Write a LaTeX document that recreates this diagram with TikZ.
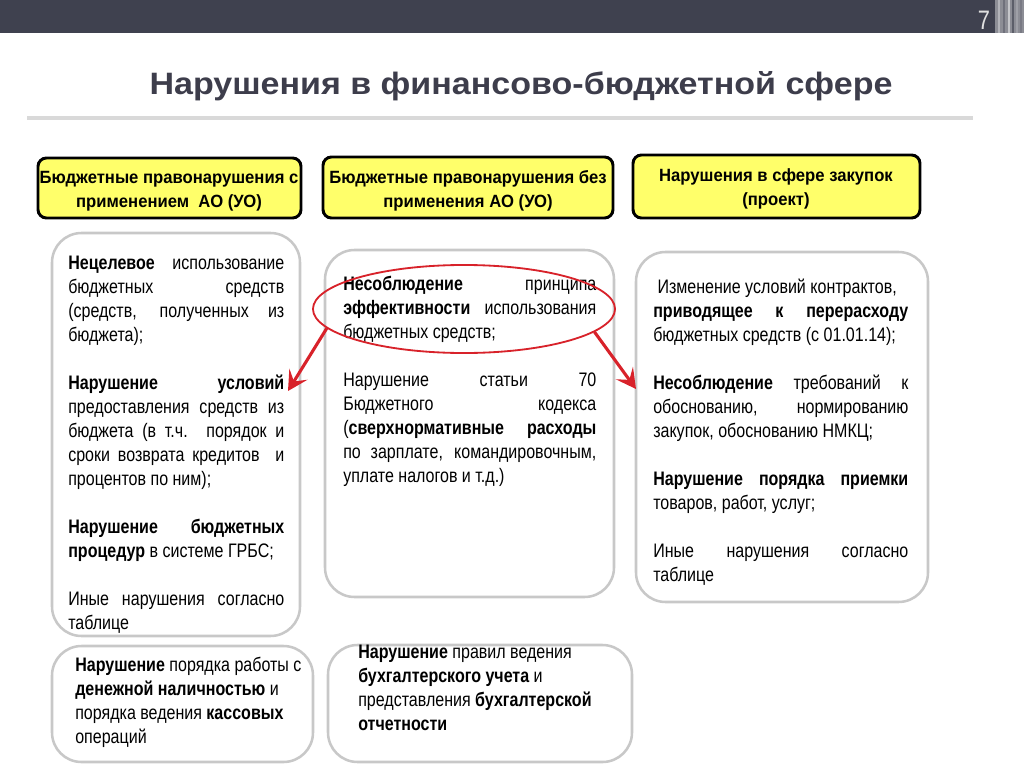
\documentclass[tikz,border=0pt]{standalone}
\usepackage{fontspec}
\setmainfont{Liberation Sans}[FakeStretch=0.82]
\newfontfamily\titlefamily{Liberation Sans}[FakeStretch=1.1]
\newfontfamily\hdrfamily{Liberation Sans}[FakeStretch=0.94]
\usetikzlibrary{arrows.meta,shapes.geometric}

\definecolor{barcol}{HTML}{3F414F}
\definecolor{titlecol}{HTML}{3D3D4B}
\definecolor{hdrfill}{HTML}{FFFF6A}
\definecolor{boxline}{HTML}{C8C8C8}
\definecolor{markred}{HTML}{D8222A}

\newcommand\bodyfont{\fontsize{13.9}{17.07}\selectfont\hyphenpenalty=10000\tolerance=10000}
\newcommand\hdrfont{\hdrfamily\fontsize{12.6}{17.07}\selectfont\bfseries}
\newcommand\blankline{\par\vspace{17.07pt}}

\tikzset{
  hdrbox/.style={draw=black, line width=2.1pt, fill=hdrfill, rounded corners=6pt},
  bodybox/.style={draw=boxline, line width=1.8pt, fill=white, rounded corners=21pt},
  bodytext/.style={anchor=north west, inner sep=0pt, align=justify, font=\bodyfont},
  plaintext/.style={anchor=north west, inner sep=0pt, align=left, font=\bodyfont},
  hdrtext/.style={inner sep=0pt, align=center, font=\hdrfont},
  redarrow/.style={draw=markred, line width=2.2pt, -{Stealth[length=14pt,width=15pt,inset=6pt]}}
}

\begin{document}
\begin{tikzpicture}[x=0.025cm, y=-0.025cm]

    \useasboundingbox (0,0) rectangle (1024,768);

    % top bar
    \fill[barcol] (0,0) rectangle (1024,33);
    \fill[barcol!60!white] (995,0) rectangle (1024,33);
    \foreach \xl/\gl in {998/40, 1003/75, 1008/30, 1012/85, 1016/50, 1020/70} {
        \fill[barcol!\gl!white] (\xl,0) rectangle ++(2,33);
    }
    \node[text=white!88!black, font=\fontsize{19}{20}\selectfont] (pagenum) at (984,20) {7};

    % title
    \node[anchor=base, text=titlecol, font=\titlefamily\fontsize{22}{26}\selectfont\bfseries] (title) at (521,95)
        {Нарушения в финансово-бюджетной сфере};
    \draw[line width=2.2pt, white!85!black] (27,118) -- (973,118);

    % headers
    \draw[hdrbox] (38,158) rectangle (301,218);
    \draw[hdrbox] (323,157) rectangle (613,218);
    \draw[hdrbox] (633,155) rectangle (920,218);
    \node[hdrtext] (hdrwith) at (169,191) {Бюджетные правонарушения с\\применением\ \ АО (УО)};
    \node[hdrtext] (hdrwithout) at (468,191) {Бюджетные правонарушения без\\применения АО (УО)};
    \node[hdrtext] (hdrproc) at (776,189) {Нарушения в сфере закупок\\(проект)};

    % body boxes
    \draw[bodybox] (52,233) rectangle (300,636);
    \draw[bodybox] (325,250) rectangle (614,597);
    \draw[bodybox] (636,252) rectangle (928,602);
    \draw[bodybox] (52,646) rectangle (313,762);
    \draw[bodybox] (328,645) rectangle (632,762);

    % left column
    \node[bodytext, text width=5.4cm] (leftlist) at (68,256) {%
        {\bfseries Нецелевое} использование\linebreak
        бюджетных средств\linebreak
        (средств, полученных из\linebreak
        бюджета);\blankline
        {\bfseries Нарушение условий}\linebreak
        предоставления средств из\linebreak
        бюджета (в т.ч. порядок и\linebreak
        сроки возврата кредитов\ \ и\linebreak
        процентов по ним);\blankline
        {\bfseries Нарушение бюджетных}\linebreak
        {\bfseries процедур} в системе ГРБС;\blankline
        Иные нарушения согласно\linebreak
        таблице};

    % middle column
    \node[bodytext, text width=6.325cm] (midlist) at (343,276) {%
        {\bfseries Несоблюдение} принципа\linebreak
        {\bfseries эффективности} использования\linebreak
        бюджетных средств;\blankline
        Нарушение статьи 70\linebreak
        Бюджетного кодекса\linebreak
        ({\bfseries сверхнормативные расходы}\linebreak
        по зарплате, командировочным,\linebreak
        уплате налогов и т.д.)};

    % right column
    \node[bodytext, text width=6.375cm] (rightlist) at (653,279) {%
        \hspace*{3pt}Изменение условий контрактов,\newline
        {\bfseries приводящее к перерасходу}\linebreak
        бюджетных средств (с 01.01.14);\blankline
        {\bfseries Несоблюдение} требований к\linebreak
        обоснованию, нормированию\linebreak
        закупок, обоснованию НМКЦ;\blankline
        {\bfseries Нарушение порядка приемки}\linebreak
        товаров, работ, услуг;\blankline
        Иные нарушения согласно\linebreak
        таблице};

    % bottom boxes
    \node[plaintext] (cashlist) at (75,657) {%
        {\bfseries Нарушение} порядка работы с\\
        {\bfseries денежной наличностью} и\\
        порядка ведения {\bfseries кассовых}\\
        операций};
    \node[plaintext] (acctlist) at (358,645) {%
        {\bfseries Нарушение} правил ведения\\
        {\bfseries бухгалтерского учета} и\\
        представления {\bfseries бухгалтерской}\\
        {\bfseries отчетности}};

    % red mark
    \node[ellipse, draw=markred, line width=1.3pt, minimum width=7.55cm, minimum height=2.2cm,
          inner sep=0pt] (effell) at (464,309) {};
    \coordinate (tipleft) at (288,391);
    \coordinate (tipright) at (636,389);
    \draw[redarrow] (effell.188) -- (tipleft);
    \draw[redarrow] (effell.350) -- (tipright);

\end{tikzpicture}
\end{document}
